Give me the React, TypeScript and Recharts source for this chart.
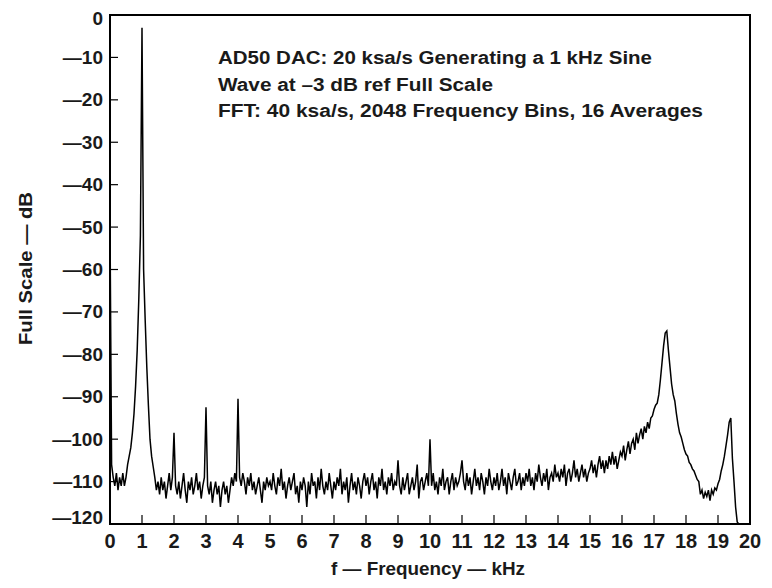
import React from 'react';
import { LineChart, Line, XAxis, YAxis, ReferenceArea } from 'recharts';

// FFT bin spacing used for the plotted trace (kHz)
const BIN_KHZ = 0.05;

// Level (dB ref full scale), 0.00 – 4.95 kHz
const level0to5 = [
  -49, -106, -109, -111, -108, -112, -109, -111, -108, -111, -109, -106, -104, -102, -98.5, -94, -87.5, -79, -67, -52,
  -3, -60, -72, -83, -92, -100, -104, -106.5, -109, -112, -110, -113, -109, -112, -110, -114, -111, -108, -112, -109,
  -98.5, -111, -113, -110, -114, -111, -108, -112, -115, -110, -112, -109, -113, -111, -108, -112, -110, -114, -111, -109,
  -92.5, -111, -113, -110, -115, -112, -110, -113, -111, -116, -112, -110, -113, -111, -115, -112, -109, -111, -108, -110,
  -90.5, -109, -111, -108, -110, -113, -109, -111, -108, -112, -110, -113, -111, -109, -112, -115, -110, -112, -109, -111,
];

// 5.00 – 9.95 kHz
const level5to10 = [
  -110, -112, -108, -111, -113, -109, -111, -107, -112, -110, -114, -111, -109, -112, -110, -108, -113, -111, -115, -110,
  -112, -109, -111, -116, -110, -113, -108, -111, -110, -114, -109, -112, -107, -111, -113, -110, -112, -108, -111, -114,
  -110, -112, -109, -111, -107, -113, -110, -112, -109, -115, -111, -108, -112, -110, -113, -109, -111, -114, -110, -108,
  -111, -109, -113, -110, -108, -112, -110, -114, -109, -111, -107, -112, -110, -113, -109, -111, -108, -112, -110, -111,
  -105, -111, -113, -109, -112, -110, -108, -113, -111, -109, -112, -110, -106, -114, -110, -109, -112, -110, -108, -111,
];

// 10.00 – 14.95 kHz
const level10to15 = [
  -100, -111, -108, -112, -110, -113, -109, -111, -107, -112, -110, -109, -113, -110, -108, -112, -109, -111, -110, -108,
  -105, -110, -112, -108, -111, -109, -113, -110, -107, -111, -109, -112, -108, -110, -113, -109, -111, -107, -110, -112,
  -109, -111, -108, -112, -110, -107, -111, -109, -113, -108, -110, -112, -109, -107, -111, -110, -108, -112, -109, -111,
  -108, -110, -107, -111, -109, -112, -108, -110, -106, -109, -111, -108, -110, -107, -112, -109, -108, -110, -106, -109,
  -108, -110, -107, -109, -106, -111, -108, -107, -110, -108, -105, -109, -107, -110, -108, -106, -109, -107, -110, -108,
];

// 15.00 – 19.65 kHz
const level15to20 = [
  -107, -105, -108, -106, -109, -106, -104, -107, -105, -108, -105, -107, -104, -106, -103, -106, -104, -107, -105, -103,
  -104, -101.5, -105, -102.5, -100.5, -103.5, -101, -100, -102.5, -98.5, -101, -99, -97.5, -100, -97, -98.5, -96, -97.5, -95, -94.5,
  -93, -92, -91.5, -89.5, -86, -82, -78, -75, -74.5, -79, -83, -87, -89.5, -91, -94, -96.5, -98.5, -99.5, -101, -102.5,
  -103.5, -104, -105.5, -106, -107, -107.5, -108.5, -109.5, -110, -113, -112, -114, -112.5, -113.5, -112, -114.5, -112, -113, -111.5, -112,
  -110.5, -109.5, -107.5, -106, -104, -101.5, -99, -96, -95, -104.5, -110, -116, -119.5, -120,
];

const xTicks = [0, 1, 2, 3, 4, 5, 6, 7, 8, 9, 10, 11, 12, 13, 14, 15, 16, 17, 18, 19, 20];
const yTicks = [0, -10, -20, -30, -40, -50, -60, -70, -80, -90, -100, -110, -120];

const annotationLines = [
  'AD50 DAC: 20 ksa/s Generating a 1 kHz Sine',
  'Wave at \u20133 dB ref Full Scale',
  'FFT: 40 ksa/s, 2048 Frequency Bins, 16 Averages',
];
const xTitle = 'f \u2014 Frequency \u2014 kHz';
const yTitle = 'Full Scale \u2014 dB';

const spectrum = [...level0to5, ...level5to10, ...level10to15, ...level15to20].map((db, i) => ({
  f: Math.round(i * BIN_KHZ * 100) / 100,
  db,
}));

const FONT = '"Liberation Sans", Arial, Helvetica, sans-serif';

const YTick = (props: any) => {
  const { x, y, payload } = props;
  const v = payload.value as number;
  const label = v === 0 ? '0' : '\u2014' + Math.abs(v);
  let dy = 6.5;
  if (v === 0) dy = 10;
  if (v === -120) dy = 0;
  return (
    <g>
      <line x1={x} x2={x + 8} y1={y} y2={y} stroke="#000" strokeWidth={1.2} />
      <text x={x - 7} y={y + dy} textAnchor="end" fontFamily={FONT} fontWeight="bold" fontSize={19} fill="#1a1a1a">
        {label}
      </text>
    </g>
  );
};

const XTick = (props: any) => {
  const { x, y, payload } = props;
  return (
    <g>
      <line x1={x} x2={x} y1={y} y2={y - 9} stroke="#000" strokeWidth={1.2} />
      <text x={x} y={y + 24} textAnchor="middle" fontFamily={FONT} fontWeight="bold" fontSize={20} fill="#1a1a1a">
        {String(payload.value)}
      </text>
    </g>
  );
};

export default function App() {
  return (
    <div style={{ position: 'relative', width: 764, height: 580, background: '#fff' }}>
      <LineChart width={764} height={580} data={spectrum} margin={{ top: 7, right: 22, bottom: 24, left: 0 }}>
        <XAxis
          dataKey="f"
          type="number"
          domain={[0, 20]}
          ticks={xTicks}
          interval={0}
          height={40}
          axisLine={false}
          tickLine={false}
          tickSize={0}
          tickMargin={0}
          tick={(p: any) => <XTick {...p} />}
          allowDataOverflow
        />
        <YAxis
          type="number"
          domain={[-120, 0]}
          ticks={yTicks}
          interval={0}
          width={102}
          axisLine={false}
          tickLine={false}
          tickSize={0}
          tickMargin={0}
          tick={(p: any) => <YTick {...p} />}
          allowDataOverflow
        />
        <ReferenceArea x1={0} x2={20} y1={-120} y2={0} fill="none" fillOpacity={0} stroke="#000" strokeWidth={2} />
        <Line
          dataKey="db"
          type="linear"
          stroke="#000"
          strokeWidth={1.5}
          dot={false}
          activeDot={false}
          isAnimationActive={false}
        />
      </LineChart>
      <svg
        width={764}
        height={580}
        style={{ position: 'absolute', left: 0, top: 0, pointerEvents: 'none' }}
      >
        {annotationLines.map((t, i) => (
          <text
            key={i}
            x={210}
            y={[56.3, 83, 109.3][i]}
            fontFamily={FONT}
            fontWeight="bold"
            fontSize={17.5}
            fill="#1a1a1a"
            textLength={[434, 275, 485][i]}
            lengthAdjust="spacingAndGlyphs"
          >
            {t}
          </text>
        ))}
        <text
          x={420}
          y={567}
          textAnchor="middle"
          fontFamily={FONT}
          fontWeight="bold"
          fontSize={19}
          fill="#1a1a1a"
          textLength={194}
          lengthAdjust="spacingAndGlyphs"
        >
          {xTitle}
        </text>
        <text
          x={0}
          y={0}
          transform="translate(24,260.5) rotate(-90)"
          textAnchor="middle"
          fontFamily={FONT}
          fontWeight="bold"
          fontSize={19}
          fill="#1a1a1a"
          textLength={153}
          lengthAdjust="spacingAndGlyphs"
        >
          {yTitle}
        </text>
      </svg>
    </div>
  );
}
